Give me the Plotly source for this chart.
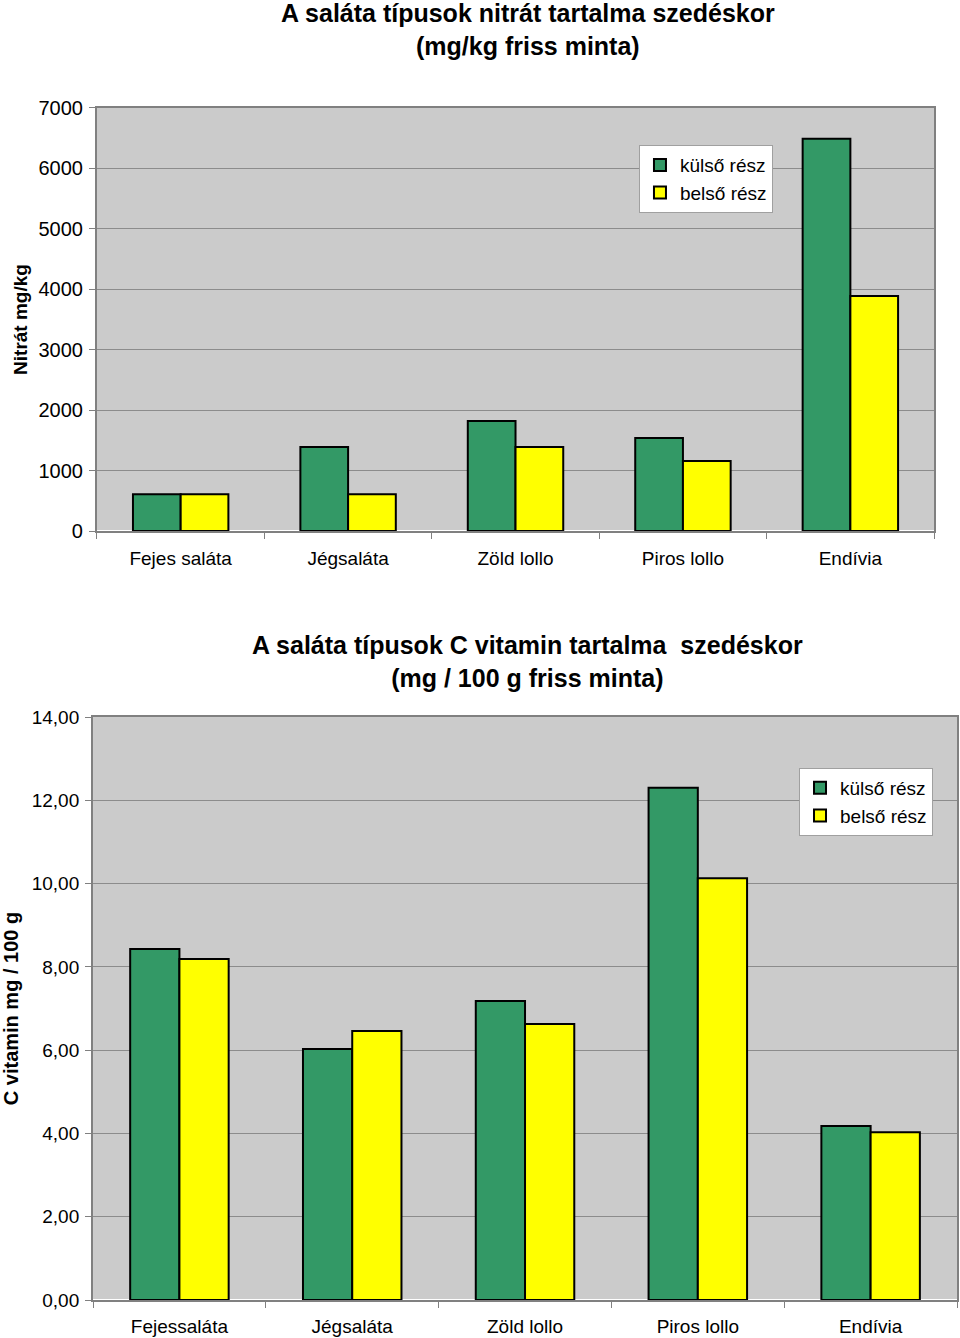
import plotly.graph_objects as go

categories_top = ["Fejes saláta", "Jégsaláta", "Zöld lollo", "Piros lollo", "Endívia"]
nitrat_kulso = [610, 1390, 1820, 1540, 6490]
nitrat_belso = [610, 610, 1390, 1160, 3890]

categories_bottom = ["Fejessaláta", "Jégsaláta", "Zöld lollo", "Piros lollo", "Endívia"]
cvit_kulso = [8.43, 6.03, 7.18, 12.30, 4.18]
cvit_belso = [8.19, 6.46, 6.63, 10.13, 4.03]

series_names = ["külső rész", "belső rész"]
top_ticks = [0, 1000, 2000, 3000, 4000, 5000, 6000, 7000]
bottom_ticks = [0, 2, 4, 6, 8, 10, 12, 14]

GREEN = "#339966"
YELLOW = "#FFFF00"
FONT = "Liberation Sans, Arial, sans-serif"

fig = go.Figure()
fig.add_trace(go.Bar(x=categories_top, y=nitrat_kulso, name=series_names[0],
                     marker=dict(color=GREEN, line=dict(color="black", width=2)),
                     xaxis="x", yaxis="y", legend="legend"))
fig.add_trace(go.Bar(x=categories_top, y=nitrat_belso, name=series_names[1],
                     marker=dict(color=YELLOW, line=dict(color="black", width=2)),
                     xaxis="x", yaxis="y", legend="legend"))
fig.add_trace(go.Bar(x=categories_bottom, y=cvit_kulso, name=series_names[0],
                     marker=dict(color=GREEN, line=dict(color="black", width=2)),
                     xaxis="x2", yaxis="y2", legend="legend2"))
fig.add_trace(go.Bar(x=categories_bottom, y=cvit_belso, name=series_names[1],
                     marker=dict(color=YELLOW, line=dict(color="black", width=2)),
                     xaxis="x2", yaxis="y2", legend="legend2"))

def axis_common(size):
    return dict(showline=True, linecolor="#808080", linewidth=2, mirror=True,
                ticks="outside", tickcolor="#808080", ticklen=6, automargin=False,
                tickfont=dict(family=FONT, size=size, color="black"))

fig.update_layout(
    width=960, height=1338,
    autosize=False,
    margin=dict(l=0, r=0, t=0, b=0, pad=0, autoexpand=False),
    paper_bgcolor="white",
    plot_bgcolor="#CBCBCB",
    barmode="group",
    bargap=0.43,
    bargroupgap=0,
    separators=", ",
    font=dict(family=FONT, color="black"),
    xaxis=dict(domain=[0.101, 0.973], anchor="y", type="category",
               tickson="boundaries", showgrid=False, ticklabelstandoff=9,
               **axis_common(19)),
    yaxis=dict(domain=[0.6031, 0.9193], anchor="x", range=[0, 7000],
               tickvals=top_ticks, tickformat="d", showgrid=True,
               gridcolor="#8C8C8C", gridwidth=1, ticklabelstandoff=2,
               title=dict(text="<b>Nitrát mg/kg</b>", font=dict(family=FONT, size=19), standoff=6),
               **axis_common(20)),
    xaxis2=dict(domain=[0.0969, 0.9969], anchor="y2", type="category",
                tickson="boundaries", showgrid=False, ticklabelstandoff=8,
                **axis_common(19)),
    yaxis2=dict(domain=[0.0284, 0.4641], anchor="x2", range=[0, 14],
                tickvals=bottom_ticks, tickformat=".2f", showgrid=True,
                gridcolor="#8C8C8C", gridwidth=1, ticklabelstandoff=2,
                title=dict(text="<b>C vitamin mg / 100 g</b>", font=dict(family=FONT, size=20), standoff=12),
                **axis_common(19)),
    legend=dict(x=0.6656, y=0.8916, xanchor="left", yanchor="top",
                bgcolor="white", bordercolor="#A0A0A0", borderwidth=1,
                font=dict(family=FONT, size=19), traceorder="normal"),
    legend2=dict(x=0.8323, y=0.426, xanchor="left", yanchor="top",
                 bgcolor="white", bordercolor="#A0A0A0", borderwidth=1,
                 font=dict(family=FONT, size=19), traceorder="normal"),
    annotations=[
        dict(text="<b>A saláta típusok nitrát tartalma szedéskor</b><br><b>(mg/kg friss minta)</b>",
             x=528/960, y=1.0, xref="paper", yref="paper", xanchor="center", yanchor="top",
             showarrow=False, font=dict(family=FONT, size=25), yshift=3),
        dict(text="<b>A saláta típusok C vitamin tartalma  szedéskor</b><br><b>(mg / 100 g friss minta)</b>",
             x=527/960, y=1 - 630/1338, xref="paper", yref="paper", xanchor="center", yanchor="top",
             showarrow=False, font=dict(family=FONT, size=25), yshift=1),
    ],
)

fig.write_html("out.html", config={"displayModeBar": False},
               post_script="document.body.style.margin='0';")
